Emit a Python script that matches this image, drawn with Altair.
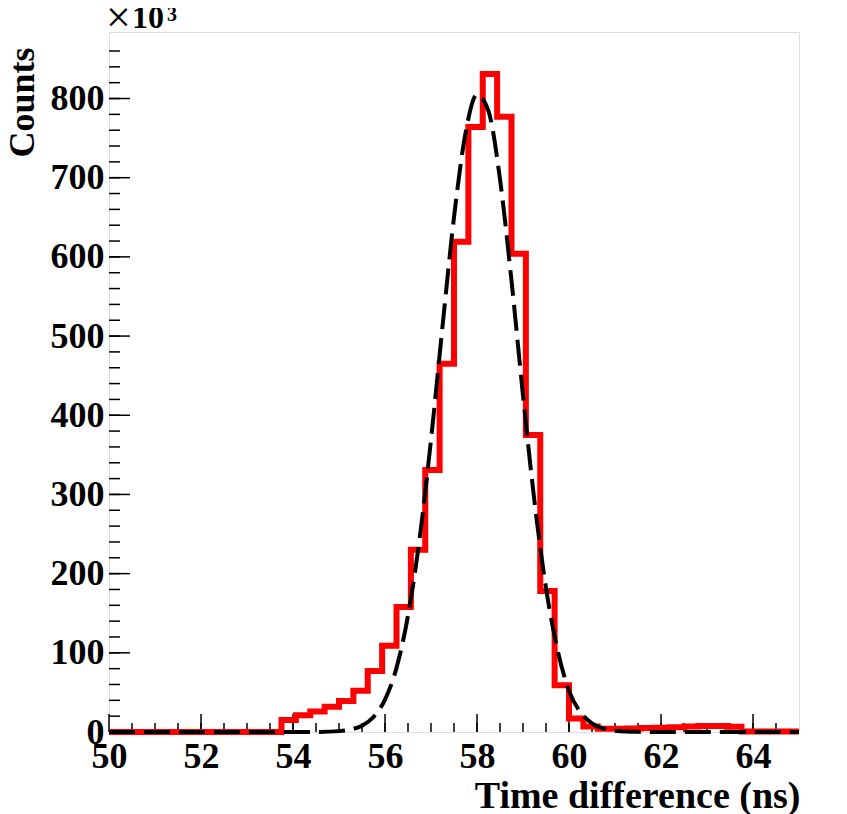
import altair as alt
import pandas as pd

# Histogram binning (48 bins between 50 and 65 ns)
bin_lo = 50.0
bin_width = 0.3125
# Bin contents in units of 10^3 counts
counts_k = [0, 0, 0, 0, 0, 0, 0, 0, 0, 0, 0, 0,
            15, 21, 26, 32, 39, 52, 77, 109, 158, 230,
            331, 465, 619, 764, 831, 777, 604, 375, 178, 59,
            17, 7, 4, 4, 4.5, 5, 5.5, 6, 7, 7.5,
            7.5, 6.5, 0.5, 0.5, 0.5, 0.5]

# Fit curve (dashed) sampled points, units of 10^3 counts
fit_x = [50, 54.0, 54.5, 55.0, 55.25, 55.5, 55.75, 56.0, 56.25, 56.5, 56.75,
         57.0, 57.25, 57.5, 57.75, 58.0, 58.25, 58.5, 58.75, 59.0, 59.25,
         59.5, 59.75, 60.0, 60.25, 60.5, 60.75, 61.0, 61.5, 62.0, 65]
fit_y = [0, 0, 0.1, 1.1, 3.1, 8.0, 19, 41, 81, 147, 243,
         369, 512, 650, 756, 805, 784, 698, 570, 425, 291,
         182, 104, 52, 25, 11, 4.5, 1.7, 0.2, 0, 0]

x_labels = [50, 52, 54, 56, 58, 60, 62, 64]
y_labels = [0, 100, 200, 300, 400, 500, 600, 700, 800]
x_minor = [50 + 0.5 * i for i in range(1, 30)]
y_minor = [20 * i for i in range(1, 44)]

FONT = "Liberation Serif"

edges = [bin_lo + i * bin_width for i in range(len(counts_k) + 1)]
hist_df = pd.DataFrame({"x": edges, "y": counts_k + [counts_k[-1]]})
fit_df = pd.DataFrame({"x": fit_x, "y": fit_y})

xscale = alt.Scale(domain=[50, 65], nice=False, zero=False)
yscale = alt.Scale(domain=[0, 884], nice=False)

x_axis = alt.Axis(
    values=x_labels, title="Time difference (ns)", grid=False, ticks=False,
    domain=False, labelFont=FONT, labelFontWeight="bold", labelFontSize=36,
    labelColor="black", labelPadding=7, labelFlush=False, labelOverlap=False,
    titleFont=FONT, titleFontWeight="bold", titleFontSize=38, titleColor="black",
    titleAnchor="end", titleAlign="right", titleBaseline="alphabetic",
    titleX=691, titleY=75)
y_axis = alt.Axis(
    values=y_labels, title="Counts", grid=False, ticks=False, domain=False,
    labelFont=FONT, labelFontWeight="bold", labelFontSize=36, labelColor="black",
    labelPadding=5, labelFlush=False, labelOverlap=False,
    titleFont=FONT, titleFontWeight="bold", titleFontSize=36, titleColor="black",
    titleAngle=270, titleAlign="center", titleBaseline="middle",
    titleX=-87, titleY=70)


def X(field="x"):
    return alt.X(f"{field}:Q", scale=xscale, axis=x_axis)


def Y(field="y"):
    return alt.Y(f"{field}:Q", scale=yscale, axis=y_axis)


hist = alt.Chart(hist_df).mark_line(
    interpolate="step-after", color="#ff0000", strokeWidth=6, clip=False,
    strokeJoin="miter", strokeCap="butt"
).encode(x=X(), y=Y())

fit = alt.Chart(fit_df).mark_line(
    interpolate="monotone", color="black", strokeWidth=4, strokeDash=[26, 9],
    clip=False
).encode(x=X(), y=Y())

xmaj = alt.Chart(pd.DataFrame({"x": x_labels})).mark_rule(color="black", strokeWidth=1.5).encode(
    x=X(), y=alt.value(700), y2=alt.value(682))
xmin = alt.Chart(pd.DataFrame({"x": x_minor})).mark_rule(color="black", strokeWidth=1.5).encode(
    x=X(), y=alt.value(700), y2=alt.value(691))
ymaj = alt.Chart(pd.DataFrame({"y": y_labels})).mark_rule(color="black", strokeWidth=1.5).encode(
    y=Y(), x=alt.value(0), x2=alt.value(21))
ymin = alt.Chart(pd.DataFrame({"y": y_minor})).mark_rule(color="black", strokeWidth=1.5).encode(
    y=Y(), x=alt.value(0), x2=alt.value(11))

exp_times = alt.Chart(pd.DataFrame({"t": ["×"]})).mark_text(
    font=FONT, fontSize=44, fontWeight="normal", align="left", baseline="alphabetic",
    color="black").encode(text="t:N", x=alt.value(-3), y=alt.value(0))
exp_ten = alt.Chart(pd.DataFrame({"t": ["10"]})).mark_text(
    font=FONT, fontSize=32, fontWeight="bold", align="left", baseline="alphabetic",
    color="black").encode(text="t:N", x=alt.value(23), y=alt.value(-4))
exp_sup = alt.Chart(pd.DataFrame({"t": ["3"]})).mark_text(
    font=FONT, fontSize=20, fontWeight="bold", align="left", baseline="alphabetic",
    color="black").encode(text="t:N", x=alt.value(58), y=alt.value(-11))

chart = alt.layer(xmin, xmaj, ymin, ymaj, hist, fit, exp_times, exp_ten, exp_sup).properties(
    width=690, height=700,
    autosize=alt.AutoSizeParams(type="none"),
    padding={"left": 101, "top": 24, "right": 30, "bottom": 82},
).configure_view(stroke="#222222", strokeWidth=1.5).configure(background="white")

chart.save("out.html", embed_options={"renderer": "svg", "actions": False})
